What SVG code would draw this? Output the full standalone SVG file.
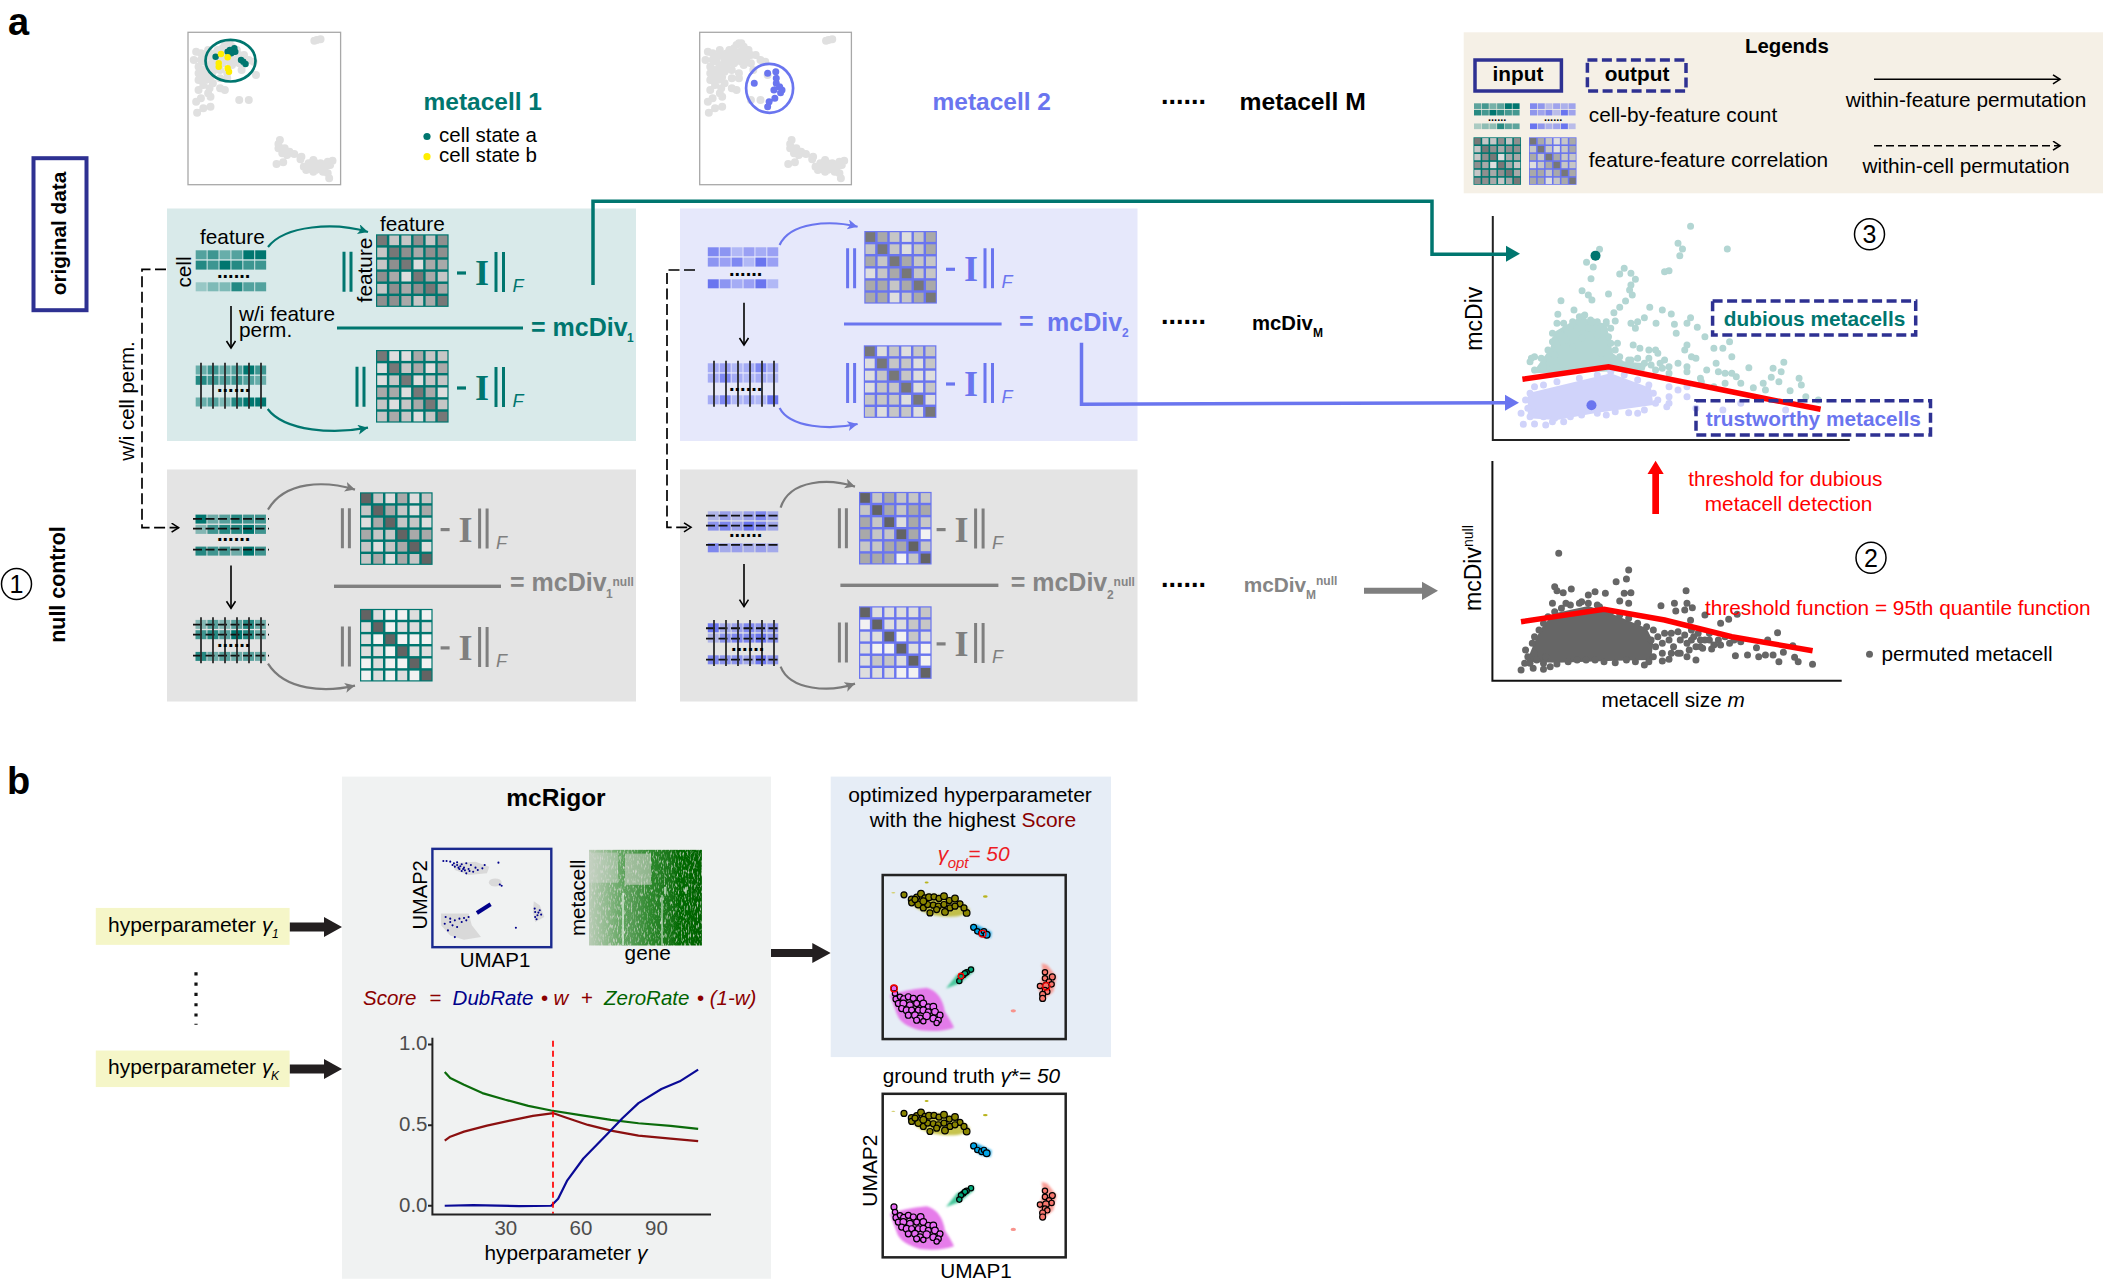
<svg xmlns="http://www.w3.org/2000/svg" width="2103" height="1286" viewBox="0 0 2103 1286">
<style>
text{font-family:"Liberation Sans",Arial,sans-serif;font-size:20.8px;fill:#000}
.b{font-weight:bold}.i{font-style:italic}.m{text-anchor:middle}
.h{font-size:24.5px;font-weight:bold}.dv{font-size:25px;font-weight:bold}.s{font-size:12px;font-weight:bold}
.dots{font-size:20px;font-weight:bold}.bd{font-size:27px;font-weight:bold}
.lab{font-size:38px;font-weight:bold}
.tT{fill:#00766f}.tB{fill:#6a75ef}.tG{fill:#858585}.tR{fill:#f00}.tD{fill:#8b0000}.tN{fill:#00008b}.tZ{fill:#006400}
.cT{color:#00766f}.cB{color:#6a75ef}.cG{color:#7f7f7f}
.cr rect{width:8px;height:8px}
.a{fill:#777}.z{fill:#636363}.c{fill:#a9a9a9}.d{fill:#c6c6c6}.e{fill:#dedede}.f{fill:#f2f2f2}.g{fill:#8f8f8f}
.cm rect{width:9.2px;height:9px}
.o3{fill-opacity:.3}.o4{fill-opacity:.42}.o5{fill-opacity:.52}.o6{fill-opacity:.62}.o7{fill-opacity:.72}.o8{fill-opacity:.84}.o9{fill-opacity:1}
.bgT{fill:#00766f}.bgB{fill:#6a75ef}
.dotp{fill:none;stroke-linecap:round;vector-effect:non-scaling-stroke}
.ln{fill:none;stroke-linejoin:round;vector-effect:non-scaling-stroke}
.dash{fill:none;stroke:#2e3192;stroke-width:3.5;stroke-dasharray:10 4.5}
.solid{fill:none;stroke:#2e3192;stroke-width:3.5}
.hd{fill:none;stroke:#111;stroke-width:1.9;stroke-dasharray:9 3.5}
.vl{fill:none;stroke:#2b2b2b;stroke-width:1.8}
.br{fill:none;stroke:currentColor;stroke-width:3}
.pal{stroke:#000;stroke-width:3.6}
</style>
<defs>
<filter id="soft" x="-10%" y="-10%" width="120%" height="120%"><feGaussianBlur stdDeviation="3"/></filter>
<filter id="soft2" x="-5%" y="-5%" width="110%" height="110%"><feGaussianBlur stdDeviation="1"/></filter>
<filter id="nz" x="0" y="0" width="100%" height="100%"><feTurbulence type="fractalNoise" baseFrequency=".7 .22" numOctaves="2" seed="4"/><feColorMatrix values="0 0 0 0 0 0 0 0 0 0 0 0 0 0 0 3 0 0 0 -.45"/><feComposite in="SourceGraphic" operator="in"/></filter>
<marker id="hT" markerUnits="userSpaceOnUse" markerWidth="12" markerHeight="12" refX="10" refY="5" orient="auto"><path d="M0 0L10 5L0 10L2.5 5z" fill="#00766f"/></marker>
<marker id="hB" markerUnits="userSpaceOnUse" markerWidth="12" markerHeight="12" refX="10" refY="5" orient="auto"><path d="M0 0L10 5L0 10L2.5 5z" fill="#6a75ef"/></marker>
<marker id="hG" markerUnits="userSpaceOnUse" markerWidth="12" markerHeight="12" refX="10" refY="5" orient="auto"><path d="M0 0L10 5L0 10L2.5 5z" fill="#7a7a7a"/></marker>
<marker id="hO" markerUnits="userSpaceOnUse" markerWidth="12" markerHeight="12" refX="8" refY="5" orient="auto"><path d="M1 0.5L8 5L1 9.5" fill="none" stroke="#000" stroke-width="1.6"/></marker>
<linearGradient id="hm" x1="0" x2="1" y1="0" y2="0"><stop offset="0" stop-color="#0b7a0b" stop-opacity=".12"/><stop offset=".14" stop-color="#0b7a0b" stop-opacity=".3"/><stop offset=".3" stop-color="#0b7a0b" stop-opacity=".55"/><stop offset=".55" stop-color="#0b7a0b" stop-opacity=".85"/><stop offset=".8" stop-color="#066a06" stop-opacity="1"/><stop offset="1" stop-color="#056205"/></linearGradient>

<g id="eq"><path d="M0 0h9" stroke="currentColor" stroke-width="3.2" fill="none"/><text x="25" y="12" class="m b" style="font-family:'Liberation Serif',serif;font-size:36px;fill:currentColor">I</text><path d="M39 -21v40M46.5 -21v40" class="br"/><text x="55.5" y="19" class="i" style="font-size:18px;fill:currentColor">F</text></g>
<path id="bars" d="M0 0v40M7 0v40" class="br"/>
<path id="v6" class="vl" d="M0 0v46M12 0v46M24 0v46M36 0v46M48 0v46M60 0v46"/>

<g id="t1" class="cr"><rect x="1" y="1" class="a"/><rect x="11" y="1" class="d"/><rect x="21" y="1" class="d"/><rect x="31" y="1" class="g"/><rect x="41" y="1" class="d"/><rect x="51" y="1" class="g"/>
<rect x="1" y="11" class="d"/><rect x="11" y="11" class="a"/><rect x="21" y="11" class="g"/><rect x="31" y="11" class="c"/><rect x="41" y="11" class="g"/><rect x="51" y="11" class="g"/>
<rect x="1" y="21" class="d"/><rect x="11" y="21" class="g"/><rect x="21" y="21" class="a"/><rect x="31" y="21" class="e"/><rect x="41" y="21" class="c"/><rect x="51" y="21" class="c"/>
<rect x="1" y="31" class="g"/><rect x="11" y="31" class="c"/><rect x="21" y="31" class="e"/><rect x="31" y="31" class="a"/><rect x="41" y="31" class="c"/><rect x="51" y="31" class="d"/>
<rect x="1" y="41" class="d"/><rect x="11" y="41" class="g"/><rect x="21" y="41" class="c"/><rect x="31" y="41" class="g"/><rect x="41" y="41" class="a"/><rect x="51" y="41" class="c"/>
<rect x="1" y="51" class="g"/><rect x="11" y="51" class="g"/><rect x="21" y="51" class="c"/><rect x="31" y="51" class="d"/><rect x="41" y="51" class="c"/><rect x="51" y="51" class="a"/></g>
<g id="t2" class="cr"><rect x="1" y="1" class="a"/><rect x="11" y="1" class="e"/><rect x="21" y="1" class="e"/><rect x="31" y="1" class="c"/><rect x="41" y="1" class="d"/><rect x="51" y="1" class="d"/>
<rect x="1" y="11" class="e"/><rect x="11" y="11" class="a"/><rect x="21" y="11" class="d"/><rect x="31" y="11" class="c"/><rect x="41" y="11" class="e"/><rect x="51" y="11" class="c"/>
<rect x="1" y="21" class="e"/><rect x="11" y="21" class="d"/><rect x="21" y="21" class="a"/><rect x="31" y="21" class="e"/><rect x="41" y="21" class="d"/><rect x="51" y="21" class="d"/>
<rect x="1" y="31" class="c"/><rect x="11" y="31" class="c"/><rect x="21" y="31" class="e"/><rect x="31" y="31" class="a"/><rect x="41" y="31" class="c"/><rect x="51" y="31" class="e"/>
<rect x="1" y="41" class="d"/><rect x="11" y="41" class="e"/><rect x="21" y="41" class="d"/><rect x="31" y="41" class="c"/><rect x="41" y="41" class="a"/><rect x="51" y="41" class="d"/>
<rect x="1" y="51" class="d"/><rect x="11" y="51" class="c"/><rect x="21" y="51" class="d"/><rect x="31" y="51" class="e"/><rect x="41" y="51" class="d"/><rect x="51" y="51" class="a"/></g>
<g id="t3" class="cr"><rect x="1" y="1" class="a"/><rect x="11" y="1" class="c"/><rect x="21" y="1" class="d"/><rect x="31" y="1" class="e"/><rect x="41" y="1" class="d"/><rect x="51" y="1" class="c"/>
<rect x="1" y="11" class="d"/><rect x="11" y="11" class="a"/><rect x="21" y="11" class="d"/><rect x="31" y="11" class="e"/><rect x="41" y="11" class="d"/><rect x="51" y="11" class="c"/>
<rect x="1" y="21" class="c"/><rect x="11" y="21" class="d"/><rect x="21" y="21" class="a"/><rect x="31" y="21" class="c"/><rect x="41" y="21" class="d"/><rect x="51" y="21" class="d"/>
<rect x="1" y="31" class="e"/><rect x="11" y="31" class="d"/><rect x="21" y="31" class="c"/><rect x="31" y="31" class="a"/><rect x="41" y="31" class="d"/><rect x="51" y="31" class="d"/>
<rect x="1" y="41" class="c"/><rect x="11" y="41" class="c"/><rect x="21" y="41" class="d"/><rect x="31" y="41" class="c"/><rect x="41" y="41" class="a"/><rect x="51" y="41" class="c"/>
<rect x="1" y="51" class="c"/><rect x="11" y="51" class="c"/><rect x="21" y="51" class="e"/><rect x="31" y="51" class="d"/><rect x="41" y="51" class="c"/><rect x="51" y="51" class="a"/></g>
<g id="t4" class="cr"><rect x="1" y="1" class="a"/><rect x="11" y="1" class="e"/><rect x="21" y="1" class="d"/><rect x="31" y="1" class="e"/><rect x="41" y="1" class="d"/><rect x="51" y="1" class="d"/>
<rect x="1" y="11" class="e"/><rect x="11" y="11" class="a"/><rect x="21" y="11" class="d"/><rect x="31" y="11" class="d"/><rect x="41" y="11" class="e"/><rect x="51" y="11" class="d"/>
<rect x="1" y="21" class="e"/><rect x="11" y="21" class="d"/><rect x="21" y="21" class="a"/><rect x="31" y="21" class="d"/><rect x="41" y="21" class="e"/><rect x="51" y="21" class="e"/>
<rect x="1" y="31" class="e"/><rect x="11" y="31" class="d"/><rect x="21" y="31" class="d"/><rect x="31" y="31" class="a"/><rect x="41" y="31" class="e"/><rect x="51" y="31" class="d"/>
<rect x="1" y="41" class="d"/><rect x="11" y="41" class="d"/><rect x="21" y="41" class="d"/><rect x="31" y="41" class="e"/><rect x="41" y="41" class="a"/><rect x="51" y="41" class="e"/>
<rect x="1" y="51" class="d"/><rect x="11" y="51" class="e"/><rect x="21" y="51" class="d"/><rect x="31" y="51" class="d"/><rect x="41" y="51" class="e"/><rect x="51" y="51" class="a"/></g>
<g id="t5" class="cr"><rect x="1" y="1" class="z"/><rect x="11" y="1" class="d"/><rect x="21" y="1" class="e"/><rect x="31" y="1" class="c"/><rect x="41" y="1" class="e"/><rect x="51" y="1" class="d"/>
<rect x="1" y="11" class="d"/><rect x="11" y="11" class="z"/><rect x="21" y="11" class="c"/><rect x="31" y="11" class="d"/><rect x="41" y="11" class="e"/><rect x="51" y="11" class="c"/>
<rect x="1" y="21" class="e"/><rect x="11" y="21" class="c"/><rect x="21" y="21" class="z"/><rect x="31" y="21" class="d"/><rect x="41" y="21" class="d"/><rect x="51" y="21" class="e"/>
<rect x="1" y="31" class="c"/><rect x="11" y="31" class="d"/><rect x="21" y="31" class="d"/><rect x="31" y="31" class="z"/><rect x="41" y="31" class="c"/><rect x="51" y="31" class="c"/>
<rect x="1" y="41" class="d"/><rect x="11" y="41" class="e"/><rect x="21" y="41" class="d"/><rect x="31" y="41" class="c"/><rect x="41" y="41" class="z"/><rect x="51" y="41" class="e"/>
<rect x="1" y="51" class="d"/><rect x="11" y="51" class="c"/><rect x="21" y="51" class="e"/><rect x="31" y="51" class="c"/><rect x="41" y="51" class="d"/><rect x="51" y="51" class="z"/></g>
<g id="t6" class="cr"><rect x="1" y="1" class="z"/><rect x="11" y="1" class="e"/><rect x="21" y="1" class="f"/><rect x="31" y="1" class="f"/><rect x="41" y="1" class="e"/><rect x="51" y="1" class="f"/>
<rect x="1" y="11" class="e"/><rect x="11" y="11" class="z"/><rect x="21" y="11" class="f"/><rect x="31" y="11" class="e"/><rect x="41" y="11" class="e"/><rect x="51" y="11" class="e"/>
<rect x="1" y="21" class="e"/><rect x="11" y="21" class="f"/><rect x="21" y="21" class="z"/><rect x="31" y="21" class="f"/><rect x="41" y="21" class="f"/><rect x="51" y="21" class="f"/>
<rect x="1" y="31" class="e"/><rect x="11" y="31" class="e"/><rect x="21" y="31" class="f"/><rect x="31" y="31" class="z"/><rect x="41" y="31" class="e"/><rect x="51" y="31" class="e"/>
<rect x="1" y="41" class="f"/><rect x="11" y="41" class="e"/><rect x="21" y="41" class="f"/><rect x="31" y="41" class="f"/><rect x="41" y="41" class="z"/><rect x="51" y="41" class="f"/>
<rect x="1" y="51" class="f"/><rect x="11" y="51" class="e"/><rect x="21" y="51" class="f"/><rect x="31" y="51" class="e"/><rect x="41" y="51" class="f"/><rect x="51" y="51" class="z"/></g>
<g id="t7" class="cr"><rect x="1" y="1" class="z"/><rect x="11" y="1" class="d"/><rect x="21" y="1" class="c"/><rect x="31" y="1" class="d"/><rect x="41" y="1" class="d"/><rect x="51" y="1" class="d"/>
<rect x="1" y="11" class="d"/><rect x="11" y="11" class="z"/><rect x="21" y="11" class="c"/><rect x="31" y="11" class="d"/><rect x="41" y="11" class="c"/><rect x="51" y="11" class="c"/>
<rect x="1" y="21" class="c"/><rect x="11" y="21" class="d"/><rect x="21" y="21" class="z"/><rect x="31" y="21" class="e"/><rect x="41" y="21" class="c"/><rect x="51" y="21" class="d"/>
<rect x="1" y="31" class="c"/><rect x="11" y="31" class="d"/><rect x="21" y="31" class="d"/><rect x="31" y="31" class="z"/><rect x="41" y="31" class="c"/><rect x="51" y="31" class="f"/>
<rect x="1" y="41" class="d"/><rect x="11" y="41" class="d"/><rect x="21" y="41" class="c"/><rect x="31" y="41" class="c"/><rect x="41" y="41" class="z"/><rect x="51" y="41" class="d"/>
<rect x="1" y="51" class="c"/><rect x="11" y="51" class="c"/><rect x="21" y="51" class="c"/><rect x="31" y="51" class="f"/><rect x="41" y="51" class="d"/><rect x="51" y="51" class="z"/></g>
<g id="t8" class="cr"><rect x="1" y="1" class="z"/><rect x="11" y="1" class="e"/><rect x="21" y="1" class="e"/><rect x="31" y="1" class="e"/><rect x="41" y="1" class="e"/><rect x="51" y="1" class="d"/>
<rect x="1" y="11" class="f"/><rect x="11" y="11" class="z"/><rect x="21" y="11" class="e"/><rect x="31" y="11" class="e"/><rect x="41" y="11" class="d"/><rect x="51" y="11" class="d"/>
<rect x="1" y="21" class="e"/><rect x="11" y="21" class="e"/><rect x="21" y="21" class="z"/><rect x="31" y="21" class="f"/><rect x="41" y="21" class="d"/><rect x="51" y="21" class="e"/>
<rect x="1" y="31" class="e"/><rect x="11" y="31" class="f"/><rect x="21" y="31" class="f"/><rect x="31" y="31" class="z"/><rect x="41" y="31" class="e"/><rect x="51" y="31" class="f"/>
<rect x="1" y="41" class="e"/><rect x="11" y="41" class="d"/><rect x="21" y="41" class="d"/><rect x="31" y="41" class="e"/><rect x="41" y="41" class="z"/><rect x="51" y="41" class="f"/>
<rect x="1" y="51" class="e"/><rect x="11" y="51" class="e"/><rect x="21" y="51" class="e"/><rect x="31" y="51" class="f"/><rect x="41" y="51" class="f"/><rect x="51" y="51" class="z"/></g>

<g id="cA" class="cm"><rect x="0" y="0" class="o6"/><rect x="10" y="0" class="o7"/><rect x="20" y="0" class="o5"/><rect x="30" y="0" class="o6"/><rect x="40" y="0" class="o9"/><rect x="50" y="0" class="o9"/>
<rect x="0" y="10.3" class="o8"/><rect x="10" y="10.3" class="o7"/><rect x="20" y="10.3" class="o9"/><rect x="30" y="10.3" class="o8"/><rect x="40" y="10.3" class="o7"/><rect x="50" y="10.3" class="o7"/>
<rect x="0" y="32" class="o3"/><rect x="10" y="32" class="o4"/><rect x="20" y="32" class="o4"/><rect x="30" y="32" class="o8"/><rect x="40" y="32" class="o6"/><rect x="50" y="32" class="o6"/></g>
<g id="cB" class="cm"><rect x="0" y="0" class="o5"/><rect x="10" y="0" class="o7"/><rect x="20" y="0" class="o5"/><rect x="30" y="0" class="o6"/><rect x="40" y="0" class="o9"/><rect x="50" y="0" class="o7"/>
<rect x="0" y="10.3" class="o8"/><rect x="10" y="10.3" class="o7"/><rect x="20" y="10.3" class="o6"/><rect x="30" y="10.3" class="o7"/><rect x="40" y="10.3" class="o6"/><rect x="50" y="10.3" class="o5"/>
<rect x="0" y="32" class="o5"/><rect x="10" y="32" class="o6"/><rect x="20" y="32" class="o4"/><rect x="30" y="32" class="o8"/><rect x="40" y="32" class="o9"/><rect x="50" y="32" class="o9"/></g>
<g id="cC" class="cm"><rect x="0" y="0" class="o8"/><rect x="10" y="0" class="o7"/><rect x="20" y="0" class="o4"/><rect x="30" y="0" class="o6"/><rect x="40" y="0" class="o5"/><rect x="50" y="0" class="o6"/>
<rect x="0" y="10.3" class="o7"/><rect x="10" y="10.3" class="o6"/><rect x="20" y="10.3" class="o8"/><rect x="30" y="10.3" class="o4"/><rect x="40" y="10.3" class="o9"/><rect x="50" y="10.3" class="o6"/>
<rect x="0" y="32" class="o9"/><rect x="10" y="32" class="o7"/><rect x="20" y="32" class="o5"/><rect x="30" y="32" class="o6"/><rect x="40" y="32" class="o9"/><rect x="50" y="32" class="o4"/></g>
<g id="cD" class="cm"><rect x="0" y="0" class="o5"/><rect x="10" y="0" class="o6"/><rect x="20" y="0" class="o4"/><rect x="30" y="0" class="o5"/><rect x="40" y="0" class="o8"/><rect x="50" y="0" class="o5"/>
<rect x="0" y="10.3" class="o5"/><rect x="10" y="10.3" class="o8"/><rect x="20" y="10.3" class="o5"/><rect x="30" y="10.3" class="o4"/><rect x="40" y="10.3" class="o5"/><rect x="50" y="10.3" class="o4"/>
<rect x="0" y="32" class="o5"/><rect x="10" y="32" class="o8"/><rect x="20" y="32" class="o4"/><rect x="30" y="32" class="o5"/><rect x="40" y="32" class="o4"/><rect x="50" y="32" class="o9"/></g>
<g id="cE" class="cm"><rect x="0" y="0" class="o9"/><rect x="10" y="0" class="o5"/><rect x="20" y="0" class="o6"/><rect x="30" y="0" class="o8"/><rect x="40" y="0" class="o7"/><rect x="50" y="0" class="o7"/>
<rect x="0" y="10.3" class="o4"/><rect x="10" y="10.3" class="o7"/><rect x="20" y="10.3" class="o8"/><rect x="30" y="10.3" class="o8"/><rect x="40" y="10.3" class="o9"/><rect x="50" y="10.3" class="o7"/>
<rect x="0" y="32" class="o8"/><rect x="10" y="32" class="o7"/><rect x="20" y="32" class="o7"/><rect x="30" y="32" class="o5"/><rect x="40" y="32" class="o9"/><rect x="50" y="32" class="o7"/></g>
<g id="cF" class="cm"><rect x="0" y="0" class="o4"/><rect x="10" y="0" class="o6"/><rect x="20" y="0" class="o4"/><rect x="30" y="0" class="o6"/><rect x="40" y="0" class="o8"/><rect x="50" y="0" class="o5"/>
<rect x="0" y="10.3" class="o7"/><rect x="10" y="10.3" class="o8"/><rect x="20" y="10.3" class="o6"/><rect x="30" y="10.3" class="o9"/><rect x="40" y="10.3" class="o8"/><rect x="50" y="10.3" class="o5"/>
<rect x="0" y="32" class="o8"/><rect x="10" y="32" class="o5"/><rect x="20" y="32" class="o6"/><rect x="30" y="32" class="o5"/><rect x="40" y="32" class="o6"/><rect x="50" y="32" class="o5"/></g>

<path id="ug" class="dotp" stroke="#e0e0e0" stroke-width="8" filter="url(#soft2)" d="M165 130h0M175 140h0M155 145h0M185 150h0M170 155h0M150 160h0M190 165h0M165 170h0M180 175h0M145 175h0M200 165h0M135 180h0M155 190h0M175 195h0M125 150h0M110 160h0M100 155h0M95 180h0M118 185h0M105 200h0M130 205h0M150 210h0M120 220h0M105 240h0M130 230h0M115 255h0M105 270h0M125 280h0M110 295h0M100 305h0M130 290h0M150 235h0M165 220h0M160 270h0M190 190h0M210 180h0M220 185h0M195 210h0M225 225h0M130 320h0M115 325h0M102 338h0M165 235h0M190 300h0M210 300h0M150 265h0M140 160h0M120 170h0M135 250h0M105 220h0M160 135h0M170 130h0M180 160h0M160 160h0M150 175h0M170 185h0M140 195h0M125 195h0M115 210h0M135 215h0M110 180h0M130 165h0M145 150h0M120 240h0M110 225h0M128 265h0M352 120h0M360 118h0M347 122h0M275 420h0M272 432h0M272 445h0M285 445h0M295 455h0M280 460h0M305 462h0M320 470h0M318 478h0M345 480h0M335 490h0M325 500h0M340 500h0M360 490h0M375 485h0M385 482h0M370 500h0M355 505h0M345 515h0M365 515h0M375 520h0M330 510h0M378 535h0M268 492h0M282 487h0M290 465h0M350 490h0M340 490h0M380 495h0M360 500h0M350 510h0"/>

<g id="um">
<g filter="url(#soft)">
<path d="M445 420Q470 395 520 400Q590 405 630 445Q620 468 560 466Q490 465 445 420Z" fill="#b9b41e" fill-opacity=".8"/>
<path d="M632 495L650 490L695 512L692 530L660 525Z" fill="#1ea7e6"/>
<path d="M558 680L590 640L640 615L642 630L600 665Z" fill="#4ac79c"/>
<path d="M845 605L862 610L890 645L880 690L850 715L835 680L850 640Z" fill="#f8938c" fill-opacity=".9"/>
<path d="M390 700Q430 685 500 678Q545 690 555 750Q575 780 582 797Q540 812 480 805Q420 790 410 755Z" fill="#e36ee8" fill-opacity=".9"/>
</g>
<ellipse cx="500" cy="364" rx="6" ry="3" fill="#b9b41e"/><ellipse cx="676" cy="406" rx="7" ry="3.5" fill="#b9b41e"/><ellipse cx="400" cy="395" rx="6" ry="2" fill="#d4d070"/>
<ellipse cx="760" cy="747" rx="8" ry="5" fill="#f8938c"/>
<g class="pal" fill="#8a8500"><circle cx="432" cy="401" r="9"/><circle cx="455" cy="415" r="10"/><circle cx="470" cy="408" r="9"/><circle cx="483" cy="398" r="10"/><circle cx="495" cy="410" r="9"/><circle cx="507" cy="408" r="10"/><circle cx="522" cy="407" r="9"/><circle cx="537" cy="412" r="9"/><circle cx="552" cy="405" r="10"/><circle cx="568" cy="418" r="9"/><circle cx="585" cy="412" r="10"/><circle cx="600" cy="428" r="9"/><circle cx="620" cy="455" r="10"/><circle cx="510" cy="455" r="9"/><circle cx="555" cy="452" r="10"/><circle cx="455" cy="425" r="9"/><circle cx="475" cy="430" r="10"/><circle cx="490" cy="440" r="9"/><circle cx="503" cy="430" r="9"/><circle cx="520" cy="432" r="9"/><circle cx="535" cy="435" r="9"/><circle cx="552" cy="430" r="9"/><circle cx="570" cy="440" r="9"/><circle cx="585" cy="435" r="9"/><circle cx="612" cy="440" r="9"/><circle cx="465" cy="415" r="9"/><circle cx="490" cy="420" r="10"/><circle cx="530" cy="445" r="9"/></g>
<g class="pal" fill="#00a5e8"><circle cx="641" cy="498" r="9"/><circle cx="652" cy="510" r="8"/><circle cx="665" cy="515" r="9"/><circle cx="672" cy="510" r="8"/><circle cx="680" cy="520" r="10"/></g>
<g class="pal" fill="#00a878"><circle cx="633" cy="624" r="8"/><circle cx="620" cy="632" r="8"/><circle cx="610" cy="640" r="8"/><circle cx="615" cy="635" r="8"/><circle cx="603" cy="645" r="8"/><circle cx="598" cy="658" r="8"/></g>
<g class="pal" fill="#f8766d"><circle cx="855" cy="632" r="8"/><circle cx="877" cy="646" r="9"/><circle cx="855" cy="650" r="8"/><circle cx="867" cy="660" r="8"/><circle cx="840" cy="673" r="8"/><circle cx="858" cy="672" r="10"/><circle cx="875" cy="668" r="8"/><circle cx="855" cy="685" r="8"/><circle cx="862" cy="690" r="8"/><circle cx="848" cy="698" r="9"/><circle cx="848" cy="710" r="9"/></g>
<g class="pal" fill="#e76bf3"><circle cx="402" cy="680" r="9"/><circle cx="405" cy="695" r="8"/><circle cx="408" cy="712" r="9"/><circle cx="420" cy="705" r="8"/><circle cx="432" cy="712" r="10"/><circle cx="445" cy="705" r="9"/><circle cx="460" cy="710" r="9"/><circle cx="482" cy="710" r="10"/><circle cx="415" cy="725" r="9"/><circle cx="430" cy="725" r="10"/><circle cx="450" cy="730" r="10"/><circle cx="470" cy="725" r="9"/><circle cx="490" cy="725" r="10"/><circle cx="505" cy="735" r="9"/><circle cx="520" cy="735" r="10"/><circle cx="425" cy="740" r="9"/><circle cx="440" cy="745" r="10"/><circle cx="455" cy="745" r="9"/><circle cx="475" cy="745" r="9"/><circle cx="490" cy="745" r="10"/><circle cx="505" cy="750" r="9"/><circle cx="525" cy="750" r="10"/><circle cx="540" cy="760" r="9"/><circle cx="445" cy="760" r="9"/><circle cx="465" cy="760" r="10"/><circle cx="480" cy="770" r="10"/><circle cx="500" cy="762" r="11"/><circle cx="520" cy="770" r="10"/><circle cx="535" cy="775" r="9"/><circle cx="470" cy="775" r="9"/><circle cx="530" cy="783" r="8"/><circle cx="490" cy="778" r="8"/></g>
</g>
</defs>

<rect width="2103" height="1286" fill="#fff"/>

<g id="panels">
<rect x="167" y="208.5" width="469" height="232.5" fill="#d9eaea"/>
<rect x="680" y="208.5" width="457.5" height="232.5" fill="#e6e8fb"/>
<rect x="167" y="469.5" width="469" height="232" fill="#e4e4e4"/>
<rect x="680" y="469.5" width="457.5" height="232" fill="#e4e4e4"/>
</g>

<g id="labels-a">
<text x="8" y="35" class="lab">a</text>
<text x="7" y="794" class="lab">b</text>
</g>

<g id="original-data">
<rect x="33.5" y="158.2" width="53" height="152" fill="none" stroke="#2e3192" stroke-width="4"/>
<text transform="translate(66,233.5) rotate(-90)" class="m b">original data</text>
</g>
<g id="null-control">
<text transform="translate(65,584.5) rotate(-90)" class="m b" style="font-size:21.4px">null control</text>
<ellipse cx="16.5" cy="584" rx="15" ry="15.5" fill="none" stroke="#000" stroke-width="1.5"/>
<text x="16.5" y="593" class="m" style="font-size:25px">1</text>
</g>

<g id="thumb1">
<rect x="188" y="32.3" width="152.6" height="152.4" fill="#fff" stroke="#a8a8a8" stroke-width="1.3"/>
<use href="#ug" transform="translate(148.3,0) scale(.4785,.3333)"/>
<g transform="scale(.4464,.3333)">
<path class="dotp" stroke="#00766f" stroke-width="6.5" d="M483 170h0M510 155h0M525 145h0M518 160h0M527 155h0M515 150h0M540 180h0M545 185h0M550 192h0"/>
<path class="dotp" stroke="#ffee00" stroke-width="6.5" d="M490 190h0M490 200h0M510 172h0M510 205h0M513 215h0M495 162h0"/>
</g>
<ellipse cx="230.5" cy="60.7" rx="25" ry="20.8" fill="none" stroke="#00766f" stroke-width="2.7"/>
</g>
<g id="thumb2">
<rect x="699.7" y="32.3" width="151.7" height="152.4" fill="#fff" stroke="#a8a8a8" stroke-width="1.3"/>
<use href="#ug" transform="translate(660,0) scale(.4785,.3333)"/>
<g transform="translate(660,0) scale(.4785,.3333)"><path class="dotp" stroke="#6a75ef" stroke-width="7" d="M197 250h0M225 220h0M242 215h0M243 235h0M243 250h0M238 270h0M250 260h0M255 270h0M252 278h0M240 295h0M228 305h0M225 320h0"/></g>
<ellipse cx="769.6" cy="88.3" rx="23.5" ry="24.5" fill="none" stroke="#6a75ef" stroke-width="2.7"/>
</g>

<g id="metacell-titles">
<text x="423.5" y="110" class="h tT">metacell 1</text>
<circle cx="427" cy="136.5" r="3.6" fill="#00766f"/><circle cx="427" cy="156.7" r="3.6" fill="#ffee00"/>
<text x="439" y="141.7" style="font-size:20.5px">cell state a</text>
<text x="439" y="161.7" style="font-size:20.5px">cell state b</text>
<text x="932.5" y="110" class="h tB">metacell 2</text>
<text x="1161" y="103.5" class="bd">......</text>
<text x="1239.5" y="110" style="font-size:24.7px" class="b">metacell M</text>
</g>

<g id="m1">
<text x="200" y="243.7">feature</text>
<text transform="translate(191,272) rotate(-90)" class="m">cell</text>
<use href="#cA" transform="translate(195.7,250.3) scale(1.19,1)" fill="#00766f"/>
<text x="217" y="277.5" class="dots">......</text>
<text x="380" y="231">feature</text>
<text transform="translate(372,270) rotate(-90)" class="m">feature</text>
<g transform="translate(376,234.3) scale(1.21)"><rect width="60" height="60" class="bgT"/><use href="#t1"/></g>
<use href="#bars" x="344" y="251.7" class="cT"/><use href="#eq" transform="translate(457,273)" class="cT"/>
<rect x="337" y="326.5" width="186" height="3" class="tT"/>
<text x="531" y="335.5" class="dv tT">= mcDiv</text><text x="627" y="342" class="s tT">1</text>
<text x="239" y="320.5">w/i feature</text><text x="239" y="337">perm.</text>
<use href="#cB" transform="translate(195.7,365.5) scale(1.19,1)" fill="#00766f"/>
<use href="#v6" x="201" y="362.7"/>
<text x="217" y="392" class="dots">......</text>
<g transform="translate(376,350) scale(1.21)"><rect width="60" height="60" class="bgT"/><use href="#t2"/></g>
<use href="#bars" x="357" y="366.7" class="cT"/><use href="#eq" transform="translate(457,388)" class="cT"/>
</g>

<g id="m2">
<use href="#cC" transform="translate(707.8,247.3) scale(1.19,1)" fill="#6a75ef"/>
<text x="729" y="275.5" class="dots">......</text>
<g transform="translate(864.3,231) scale(1.21)"><rect width="60" height="60" class="bgB"/><use href="#t3"/></g>
<use href="#bars" x="847.6" y="248.3" class="cB"/><use href="#eq" transform="translate(946,269.3)" class="cB"/>
<rect x="844" y="322.5" width="157.6" height="3" class="tB"/>
<text x="1019" y="329.5" class="dv tB">=</text><text x="1047" y="330.5" class="dv tB">mcDiv</text><text x="1122" y="337" class="s tB">2</text>
<use href="#cD" transform="translate(707.8,363.3) scale(1.19,1)" fill="#6a75ef"/>
<use href="#v6" x="714" y="360.7"/>
<text x="729" y="391" class="dots">......</text>
<g transform="translate(863.8,345.3) scale(1.21)"><rect width="60" height="60" class="bgB"/><use href="#t4"/></g>
<use href="#bars" x="847.6" y="363" class="cB"/><use href="#eq" transform="translate(946,384)" class="cB"/>
</g>

<g id="mM"><text x="1161" y="323.5" class="bd">......</text><text x="1252" y="330" class="b" style="font-size:20.3px">mcDiv</text><text x="1313" y="336.7" class="s">M</text></g>

<g id="m1null" transform="translate(0,.6)">
<use href="#cE" transform="translate(195.5,514) scale(1.19,1)" fill="#00766f"/>
<path class="hd" d="M193 518.3h76M193 528h76M193 549h76"/>
<text x="217" y="540" class="dots">......</text>
<g transform="translate(360,491.7) scale(1.21)"><rect width="60" height="60" class="bgT"/><use href="#t5"/></g>
<use href="#bars" x="342.4" y="507.7" class="cG"/><use href="#eq" transform="translate(440.6,529)" class="cG"/>
<rect x="334" y="584" width="167" height="3.4" fill="#808080"/>
<text x="510" y="590.7" class="dv tG">= mcDiv</text><text x="606" y="597" class="s tG">1</text><text x="612.5" y="585.7" class="s tG">null</text>
<use href="#cF" transform="translate(195.5,619.3) scale(1.19,1)" fill="#00766f"/>
<path class="hd" d="M193 624h76M193 634h76M193 655h76"/>
<use href="#v6" x="201" y="616.7"/>
<text x="217" y="646" class="dots">......</text>
<g transform="translate(360,608.3) scale(1.21)"><rect width="60" height="60" class="bgT"/><use href="#t6"/></g>
<use href="#bars" x="342.4" y="626" class="cG"/><use href="#eq" transform="translate(440.6,647.3)" class="cG"/>
</g>

<g id="m2null" transform="translate(0,.6)">
<use href="#cF" transform="translate(707.8,510.7) scale(1.19,1)" fill="#6a75ef"/>
<path class="hd" d="M706 515h74M706 525h74M706 544.3h74"/>
<text x="729" y="536.5" class="dots">......</text>
<g transform="translate(859,491.3) scale(1.21)"><rect width="60" height="60" class="bgB"/><use href="#t7"/></g>
<use href="#bars" x="839.4" y="507.7" class="cG"/><use href="#eq" transform="translate(936.6,529)" class="cG"/>
<rect x="840.4" y="583" width="158" height="3.4" fill="#808080"/>
<text x="1010.7" y="590" class="dv tG">= mcDiv</text><text x="1107" y="598" class="s tG">2</text><text x="1113.6" y="585" class="s tG">null</text>
<use href="#cE" transform="translate(707.8,622.7) scale(1.19,1)" fill="#6a75ef"/>
<path class="hd" d="M706 627.7h74M706 638h74M706 659h74"/>
<use href="#v6" x="714" y="619.3"/>
<text x="731" y="650" class="dots">......</text>
<g transform="translate(859,605.7) scale(1.21)"><rect width="60" height="60" class="bgB"/><use href="#t8"/></g>
<use href="#bars" x="839.4" y="622" class="cG"/><use href="#eq" transform="translate(936.6,643.3)" class="cG"/>
</g>

<g id="mMnull"><text x="1161" y="587" class="bd">......</text>
<text x="1243.7" y="592" class="b tG">mcDiv</text><text x="1306" y="599" class="s tG">M</text><text x="1316" y="585.3" class="s tG">null</text></g>

<g id="legend">
<rect x="1463.7" y="32.3" width="639.3" height="161" fill="#f5f0e6"/>
<text x="1745" y="53.3" class="b" style="font-size:20.4px">Legends</text>
<rect x="1475" y="60" width="86.4" height="31" class="solid"/><text x="1518" y="81" class="m b">input</text>
<rect x="1587.4" y="60" width="98.6" height="31" class="dash"/><text x="1637" y="81" class="m b">output</text>
<use href="#cA" transform="translate(1474,103.3) scale(.77,.63)" fill="#00766f"/>
<use href="#cC" transform="translate(1530,103.3) scale(.77,.63)" fill="#6a75ef"/>
<text x="1488" y="121" style="font-size:11px" class="b">......</text><text x="1544" y="121" style="font-size:11px" class="b">......</text>
<g transform="translate(1473.5,137.3) scale(.792)"><rect width="60" height="60" class="bgT"/><use href="#t1"/></g>
<g transform="translate(1529,137.3) scale(.792)"><rect width="60" height="60" class="bgB"/><use href="#t3"/></g>
<text x="1588.8" y="121.7">cell-by-feature count</text>
<text x="1588.8" y="166.7">feature-feature correlation</text>
<text x="1966" y="106.7" class="m">within-feature permutation</text>
<text x="1966" y="172.7" class="m">within-cell permutation</text>
</g>

<g id="plot3">
<g transform="translate(1400,20) scale(.4484,.3333)">
<path d="M295 1060L335 985L345 935L400 892L460 912L475 1000L500 1025L550 1030L545 1052Z" fill="#b3d6d3"/>
<path class="dotp" stroke="#b3d6d3" stroke-width="7" d="M648 619h0M620 670h0M630 687h0M624 707h0M730 687h0M445 688h0M416 727h0M431 741h0M426 776h0M600 752h0M590 755h0M500 745h0M490 762h0M515 760h0M525 778h0M515 795h0M512 810h0M518 825h0M465 822h0M406 812h0M420 825h0M428 840h0M359 842h0M503 843h0M490 862h0M477 878h0M388 870h0M352 883h0M410 888h0M557 862h0M585 870h0M605 882h0M648 893h0M612 913h0M640 910h0M663 922h0M545 893h0M530 905h0M515 910h0M525 925h0M571 910h0M616 940h0M480 903h0M680 950h0M735 965h0M700 985h0M720 985h0M740 1010h0M635 990h0M640 975h0M660 1015h0M650 1010h0M705 1030h0M684 1050h0M710 1055h0M725 1060h0M740 1060h0M750 1070h0M760 1090h0M725 1090h0M778 1043h0M832 1045h0M856 1027h0M850 1055h0M810 1090h0M828 1072h0M845 1085h0M890 1075h0M895 1095h0M870 1112h0M905 1130h0M933 1140h0M815 1110h0M788 1103h0M640 1040h0M620 1030h0M590 1020h0M570 990h0M575 1000h0M555 990h0M535 985h0M520 975h0M485 970h0M515 1020h0M530 1040h0M555 1015h0M600 1040h0M670 1075h0M640 1055h0M700 1100h0M672 1085h0M293 1015h0M320 1020h0M340 940h0M350 910h0M365 910h0M430 905h0M460 910h0M455 930h0M440 945h0M420 925h0M395 925h0M405 955h0M330 990h0M350 975h0M370 960h0M385 980h0M490 1030h0M510 1040h0M580 1030h0M600 1060h0M585 1045h0M340 965h0M345 1005h0M290 1025h0M300 1010h0M315 1015h0M320 1040h0M335 1000h0M345 960h0M360 945h0M370 925h0M385 905h0M400 890h0M412 885h0M425 900h0M440 905h0M460 905h0M470 925h0M465 950h0M470 970h0M480 990h0M490 1010h0M510 1020h0M530 1015h0M545 1030h0M560 1035h0M500 1035h0M450 1000h0M475 1035h0M300 1050h0M340 1045h0M520 1050h0M570 1050h0M350 1040h0"/>
<path d="M285 1195L285 1120L470 1060L560 1105L565 1155L440 1178L350 1200Z" fill="#d0d3fa"/>
<path class="dotp" stroke="#d0d3fa" stroke-width="7" d="M600 1100h0M620 1110h0M640 1130h0M600 1130h0M600 1150h0M595 1160h0M570 1150h0M575 1140h0M545 1170h0M530 1180h0M510 1178h0M460 1185h0M440 1180h0M405 1185h0M365 1205h0M325 1215h0M275 1213h0M300 1212h0M270 1180h0M285 1165h0M280 1140h0M290 1120h0M300 1100h0M860 1170h0M660 1165h0M760 1150h0M720 1170h0M345 1195h0M380 1190h0M320 1190h0M640 1100h0M320 1095h0M350 1085h0M400 1075h0M440 1065h0M470 1055h0M500 1065h0M530 1080h0M555 1095h0M565 1120h0M480 1175h0M290 1190h0M310 1170h0M340 1205h0"/>
<path class="dotp" stroke="#00766f" stroke-width="10" d="M436 707h0"/>
<path class="dotp" stroke="#6a75ef" stroke-width="10" d="M427 1156h0"/>
</g>
<path d="M1492.8 216V440H1849.8" fill="none" stroke="#222" stroke-width="2"/>
<text transform="translate(1482,318.7) rotate(-90)" class="m" style="font-size:23px">mcDiv</text>
<ellipse cx="1869.5" cy="234.3" rx="15" ry="15.5" fill="none" stroke="#000" stroke-width="1.5"/>
<text x="1869.5" y="243" class="m" style="font-size:25px">3</text>
<path d="M1522.4 379.3L1608.5 366.7L1758.7 397.3L1820.6 409.3" fill="none" stroke="#f00" stroke-width="5.5"/>
<rect x="1712.6" y="301" width="203.1" height="34" class="dash"/>
<text x="1723.8" y="325.7" class="b tT">dubious metacells</text>
<rect x="1696" y="400.7" width="234.5" height="34.3" class="dash"/>
<text x="1705.8" y="426" class="b tB">trustworthy metacells</text>
</g>

<g id="plot2">
<g transform="translate(1400,440) scale(.4484,.3333)">
<path d="M282 665L305 590L320 555L345 520L420 498L470 520L550 565L565 605L560 660L480 662L350 668Z" fill="#666"/>
<path class="dotp" stroke="#666" stroke-width="7" d="M354 340h0M510 390h0M505 417h0M482 425h0M345 440h0M350 452h0M364 458h0M382 447h0M435 455h0M420 465h0M458 460h0M515 458h0M500 460h0M490 483h0M638 452h0M612 490h0M640 490h0M582 497h0M615 513h0M652 503h0M635 510h0M680 525h0M752 523h0M733 538h0M715 550h0M648 541h0M842 578h0M820 600h0M876 617h0M795 623h0M748 647h0M775 645h0M800 650h0M815 645h0M832 645h0M855 637h0M845 665h0M880 652h0M888 665h0M920 673h0M695 627h0M660 660h0M640 650h0M600 658h0M585 663h0M620 640h0M650 600h0M670 600h0M710 600h0M735 610h0M715 615h0M760 605h0M270 690h0M278 670h0M285 650h0M280 630h0M295 610h0M300 590h0M310 570h0M320 550h0M330 530h0M345 515h0M360 505h0M380 495h0M400 490h0M420 490h0M445 500h0M470 515h0M490 525h0M510 535h0M530 550h0M550 560h0M565 570h0M560 600h0M570 620h0M565 650h0M555 665h0M545 675h0M525 665h0M505 660h0M480 668h0M455 665h0M435 660h0M415 660h0M395 660h0M375 665h0M350 672h0M335 680h0M320 688h0M297 685h0M305 660h0M325 650h0M340 490h0M370 490h0M405 485h0M440 495h0M510 490h0M575 590h0M590 580h0M585 610h0M600 600h0M610 620h0M625 600h0M640 610h0M655 590h0M670 620h0M660 620h0M645 630h0M625 640h0M605 640h0M585 640h0M680 600h0M675 625h0M725 590h0M690 580h0M650 570h0M620 575h0M300 640h0M290 670h0M320 670h0M605 580h0M635 585h0M665 580h0M700 615h0M745 600h0M690 600h0"/>
</g>
<path d="M1492.4 461V680.7H1841.7" fill="none" stroke="#111" stroke-width="2"/>
<text transform="translate(1480.7,611) rotate(-90)" style="font-size:23px">mcDiv</text>
<text transform="translate(1472.6,547) rotate(-90)" style="font-size:14px">null</text>
<path d="M1521 621.7L1604 609.3L1664.6 620L1731.8 636.7L1812.6 650.7" fill="none" stroke="#f00" stroke-width="5.5"/>
<ellipse cx="1871" cy="557.7" rx="15" ry="15.5" fill="none" stroke="#000" stroke-width="1.5"/>
<text x="1871" y="566.5" class="m" style="font-size:25px">2</text>
<text x="1785.4" y="485.7" class="m tR">threshold for dubious</text>
<text x="1788.6" y="510.7" class="m tR">metacell detection</text>
<path d="M1652.3 514V474H1647.5L1655.6 460.7L1663.7 474H1659V514Z" fill="#f00"/>
<text x="1705" y="614.5" class="tR">threshold function = 95th quantile function</text>
<circle cx="1869.5" cy="654.3" r="3.5" fill="#666"/>
<text x="1881.5" y="660.5">permuted metacell</text>
<text x="1601.5" y="707.2">metacell size <tspan class="i">m</tspan></text>
</g>

<g id="connectors">
<path d="M593 285V201.3H1432V254.3H1508" fill="none" stroke="#00766f" stroke-width="3.5"/>
<path d="M1506 245.7L1520 253.7L1506 261.7Z" fill="#00766f"/>
<path d="M1081.5 342.7V404.3L1508 402.7" fill="none" stroke="#6a75ef" stroke-width="3.5"/>
<path d="M1505 394.7L1519 402.7L1505 410.7Z" fill="#6a75ef"/>
<path d="M1364 587.7H1422V581.7L1438 590.7L1422 600V593.7H1364Z" fill="#7f7f7f"/>
<path d="M268 247C285 225 335 222 368 232" fill="none" stroke="#00766f" stroke-width="2.2" marker-end="url(#hT)"/>
<path d="M267.7 409C285 432 335 434 368 427.7" fill="none" stroke="#00766f" stroke-width="2.2" marker-end="url(#hT)"/>
<path d="M779.6 245C790 222 830 220 857.6 226.7" fill="none" stroke="#6a75ef" stroke-width="2.2" marker-end="url(#hB)"/>
<path d="M779.6 408C790 428 830 430 857.6 424" fill="none" stroke="#6a75ef" stroke-width="2.2" marker-end="url(#hB)"/>
<path d="M268 509.6C285 480.6 325 480.6 355 489.6" fill="none" stroke="#7a7a7a" stroke-width="2.2" marker-end="url(#hG)"/>
<path d="M268 663.6C285 690.6 325 692.6 355 685.6" fill="none" stroke="#7a7a7a" stroke-width="2.2" marker-end="url(#hG)"/>
<path d="M780.6 507.6C790 478.6 830 478.6 855 486.6" fill="none" stroke="#7a7a7a" stroke-width="2.2" marker-end="url(#hG)"/>
<path d="M780.6 666.6C790 690.6 830 692.6 855 683.6" fill="none" stroke="#7a7a7a" stroke-width="2.2" marker-end="url(#hG)"/>
<path d="M231 306V348" fill="none" stroke="#000" stroke-width="1.6" marker-end="url(#hO)"/>
<path d="M231 565.6V608.3" fill="none" stroke="#000" stroke-width="1.6" marker-end="url(#hO)"/>
<path d="M744 302.7V345" fill="none" stroke="#000" stroke-width="1.6" marker-end="url(#hO)"/>
<path d="M744 563.9V606.6" fill="none" stroke="#000" stroke-width="1.6" marker-end="url(#hO)"/>
<path d="M166 269.3H142V527.7H178.6" fill="none" stroke="#000" stroke-width="1.7" stroke-dasharray="11 4.5" marker-end="url(#hO)"/>
<path d="M695 270H667V527.3H691" fill="none" stroke="#000" stroke-width="1.7" stroke-dasharray="11 4.5" marker-end="url(#hO)"/>
<path d="M1874 79.3H2060" fill="none" stroke="#000" stroke-width="1.6" marker-end="url(#hO)"/>
<path d="M1874 145.7H2060" fill="none" stroke="#000" stroke-width="1.6" stroke-dasharray="8 4" marker-end="url(#hO)"/>
<g transform="translate(0,-3.84) scale(1,1.00637)">
<path d="M289.6 920.6H324V915L342 925L324 935V929.4H289.6Z" fill="#231f20"/>
<path d="M289.6 1061.6H324V1056L342 1066L324 1076V1070.4H289.6Z" fill="#231f20"/>
</g>
<path d="M770.7 948.9H812.3V942.9L830.7 952.9L812.3 962.9V956.9H770.7Z" fill="#231f20"/>
</g>
<text transform="translate(134,401) rotate(-90)" class="m" style="font-size:20.5px">w/i cell perm.</text>

<g id="section-b" transform="translate(0,-3.84) scale(1,1.00637)">
<g id="hp1"><rect x="95.8" y="906" width="193.8" height="36.7" fill="#f5f6c8"/>
<text x="108" y="930" style="font-size:21px">hyperparameter <tspan class="i">γ</tspan></text><text x="272" y="936" class="i" style="font-size:12px">1</text></g>
<path d="M196 970V1022" fill="none" stroke="#111" stroke-width="3.2" stroke-dasharray="3.2 7"/>
<g id="hpK"><rect x="95.8" y="1047.7" width="193.8" height="36.3" fill="#f5f6c8"/>
<text x="108" y="1071" style="font-size:21px">hyperparameter <tspan class="i">γ</tspan></text><text x="271" y="1077" class="i" style="font-size:12px">K</text></g>

<g id="mcRigor">
<rect x="342" y="775.5" width="429" height="499" fill="#f0f2f2"/>
<text x="556" y="805" class="m h">mcRigor</text>
<g transform="translate(60,760) scale(.4591,.3333)">
<path d="M855 305L905 300L935 315L930 335L890 340L860 325Z" fill="#d9d9d9"/>
<path d="M830 455L890 455L897 490L917 525L880 533L850 520L830 490Z" fill="#d9d9d9"/>
<ellipse cx="948" cy="362" rx="14" ry="12" fill="#d9d9d9"/><path d="M1032 418L1045 430L1055 465L1035 480L1030 450Z" fill="#d9d9d9"/>
<path class="dotp" stroke="#00008b" stroke-width="2.1" d="M835 298h0M842 298h0M850 300h0M865 302h0M885 305h0M860 315h0M870 322h0M880 318h0M895 310h0M900 330h0M885 335h0M910 325h0M920 320h0M925 310h0M875 328h0M865 310h0M890 322h0M855 310h0M872 314h0M882 326h0M858 305h0M868 318h0M875 308h0M878 322h0M892 328h0M905 318h0M955 303h0M958 368h0M962 372h0M840 465h0M850 470h0M860 475h0M870 470h0M880 468h0M890 465h0M838 485h0M855 490h0M845 505h0M860 525h0M875 480h0M850 480h0M885 475h0M865 495h0M1035 450h0M1040 460h0M1045 445h0M1035 465h0M1042 452h0M1038 472h0M1048 458h0M1034 440h0M993 497h0"/>
<path class="ln" stroke="#00008b" stroke-width="4" d="M908 453L938 427"/>
</g>
<rect x="432.4" y="847.3" width="118.9" height="97.7" fill="none" stroke="#1a2a8e" stroke-width="2.4"/>
<text transform="translate(427,893) rotate(-90)" class="m" style="font-size:20px">UMAP2</text>
<text x="495" y="965" class="m" style="font-size:20.5px">UMAP1</text>
<rect x="589" y="848.3" width="112.9" height="95" fill="#d4d8d0"/>
<rect x="589" y="848.3" width="112.9" height="95" fill="url(#hm)" filter="url(#nz)"/>
<rect x="625" y="852" width="26" height="31" fill="#d0d3cc" fill-opacity=".6"/>
<rect x="589" y="851" width="29" height="30" fill="#d3d6d0" fill-opacity=".45"/>
<rect x="622" y="891" width="2" height="52" fill="#fff" fill-opacity=".55"/><rect x="661" y="893" width="2" height="50" fill="#fff" fill-opacity=".45"/><rect x="664" y="885" width="2.5" height="7" fill="#fff" fill-opacity=".6"/><rect x="685" y="885" width="2" height="7" fill="#fff" fill-opacity=".5"/>
<text transform="translate(584.8,896) rotate(-90)" class="m" style="font-size:20.4px">metacell</text>
<text x="647.7" y="957.3" class="m">gene</text>
<text x="363" y="1002" class="i tD" style="font-size:20.5px">Score</text>
<text x="429.6" y="1002" class="tD" style="font-size:20.5px">=</text>
<text x="452.6" y="1002" class="i tN" style="font-size:20.5px">DubRate</text>
<text x="541" y="1002" class="tD" style="font-size:20.5px">•</text>
<text x="553.6" y="1002" class="i tD" style="font-size:20.5px">w</text>
<text x="581" y="1002" class="tD" style="font-size:20.5px">+</text>
<text x="604" y="1002" class="i tZ" style="font-size:20.5px">ZeroRate</text>
<text x="697" y="1002" class="tD" style="font-size:20.5px">•</text>
<text x="709.7" y="1002" class="i tD" style="font-size:20.5px">(1-w)</text>
<g transform="translate(60,760) scale(.4591,.3333)">
<path class="ln" stroke="#0b6b0b" stroke-width="2.2" d="M838 927L850 945L880 965L920 990L970 1010L1020 1028L1070 1042L1130 1055L1200 1070L1260 1080L1330 1088L1390 1097"/>
<path class="ln" stroke="#8b1010" stroke-width="2.2" d="M838 1132L850 1120L880 1105L930 1087L980 1072L1030 1058L1075 1050L1100 1062L1150 1085L1200 1102L1260 1117L1330 1126L1390 1133"/>
<path class="ln" stroke="#0a0a96" stroke-width="2.2" d="M838 1326L900 1324L1000 1327L1070 1326L1085 1305L1105 1250L1140 1185L1190 1115L1225 1065L1260 1020L1310 978L1350 955L1390 920"/>
</g>
<path d="M553 1038V1210" fill="none" stroke="#f00" stroke-width="1.7" stroke-dasharray="6 4"/>
<path d="M432.4 1035V1210.7H711M428 1041.7h4.4M428 1122h4.4M428 1202h4.4" fill="none" stroke="#222" stroke-width="2"/>
<text x="399" y="1047.3" style="font-size:20.5px;fill:#4d4d4d">1.0</text>
<text x="399" y="1127.7" style="font-size:20.5px;fill:#4d4d4d">0.5</text>
<text x="399" y="1207.7" style="font-size:20.5px;fill:#4d4d4d">0.0</text>
<text x="505.8" y="1230.7" class="m" style="font-size:20.5px;fill:#4d4d4d">30</text>
<text x="581" y="1230.7" class="m" style="font-size:20.5px;fill:#4d4d4d">60</text>
<text x="656.4" y="1230.7" class="m" style="font-size:20.5px;fill:#4d4d4d">90</text>
<text x="566" y="1256" class="m">hyperparameter <tspan class="i">γ</tspan></text>
</g>
</g>

<g id="section-b-right" transform="translate(0,-3.84) scale(1,1.00637)">
<g id="optimized">
<rect x="830.7" y="775.5" width="280.3" height="278.7" fill="#e6edf6"/>
<text x="970" y="800.7" class="m" style="font-size:21px">optimized hyperparameter</text>
<text x="973" y="826" class="m" style="font-size:21px">with the highest <tspan class="tD">Score</tspan></text>
<text x="937.7" y="859.3" class="i" style="font-size:21px;fill:#ed1c24">γ</text>
<text x="947.7" y="866" class="i" style="font-size:15px;fill:#ed1c24">opt</text>
<text x="968.3" y="859.3" class="i" style="font-size:21px;fill:#ed1c24">= 50</text>
<rect x="882.7" y="873.3" width="183" height="163" fill="none" stroke="#222" stroke-width="2.5"/>
<use href="#um" transform="translate(760,759.3) scale(.3333)"/>
<g transform="translate(760,759.3) scale(.3333)" fill="none" stroke="#f00" stroke-width="4"><circle cx="668" cy="517" r="10"/><circle cx="603" cy="643" r="8"/><circle cx="859" cy="674" r="11"/><circle cx="402" cy="680" r="10"/></g>
</g>
<g id="ground-truth">
<text x="882.7" y="1079.5">ground truth <tspan class="i">γ</tspan>*= <tspan class="i">50</tspan></text>
<rect x="882.7" y="1090.7" width="183" height="162.5" fill="#fff" stroke="#222" stroke-width="2.5"/>
<use href="#um" transform="translate(760,976.5) scale(.3333)"/>
<text transform="translate(877,1167) rotate(-90)" class="m">UMAP2</text>
<text x="976" y="1274" class="m">UMAP1</text>
</g>
</g>
</svg>
